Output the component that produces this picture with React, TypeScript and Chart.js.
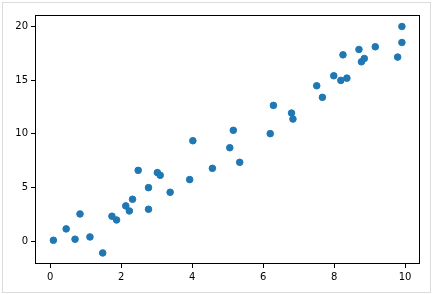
import React, { useEffect, useRef } from "react";
import { Chart, registerables } from "chart.js";

Chart.register(...registerables);

const xValues = [0.09, 0.45, 0.70, 0.84, 1.12, 1.48, 1.74, 1.87, 2.13, 2.23, 2.32, 2.48, 2.77, 2.77, 3.02, 3.10, 3.38, 3.93, 4.02, 4.57, 5.06, 5.16, 5.34, 6.20, 6.29, 6.80, 6.84, 7.51, 7.67, 7.99, 8.19, 8.25, 8.36, 8.70, 8.77, 8.85, 9.16, 9.79, 9.91, 9.91];
const yValues = [0.09, 1.15, 0.19, 2.54, 0.40, -1.09, 2.33, 1.98, 3.29, 2.82, 3.91, 6.60, 4.99, 2.98, 6.39, 6.14, 4.56, 5.74, 9.36, 6.79, 8.71, 10.33, 7.35, 10.02, 12.65, 11.94, 11.38, 14.48, 13.40, 15.41, 14.98, 17.36, 15.19, 17.86, 16.71, 17.02, 18.11, 17.15, 18.51, 20.0];
const xTicks = [0, 2, 4, 6, 8, 10];
const yTicks = [0, 5, 10, 15, 20];

const framePlugin = {
  id: "frame",
  beforeDraw(chart: any) {
    const ctx = chart.ctx;
    ctx.save();
    ctx.strokeStyle = "#dcdcdc";
    ctx.lineWidth = 1;
    ctx.strokeRect(2.5, 2.5, 428, 290);
    ctx.restore();
  },
  afterDraw(chart: any) {
    const { left, top, right, bottom } = chart.chartArea;
    const ctx = chart.ctx;
    ctx.save();
    ctx.strokeStyle = "#000";
    ctx.lineWidth = 1;
    ctx.strokeRect(Math.round(left) - 0.5, Math.round(top) + 0.5, Math.round(right - left), Math.round(bottom - top) - 1);
    ctx.restore();
  },
};

export default function App() {
  const ref = useRef<HTMLCanvasElement>(null);
  useEffect(() => {
    if (!ref.current) return;
    const chart = new Chart(ref.current, {
      type: "scatter",
      data: {
        datasets: [
          {
            data: xValues.map((x, i) => ({ x, y: yValues[i] })),
            backgroundColor: "#1f77b4",
            borderColor: "#1f77b4",
            borderWidth: 1,
            pointRadius: 3.3,
            pointHoverRadius: 3.3,
          },
        ],
      },
      options: {
        responsive: false,
        animation: false,
        events: [],
        layout: { padding: { top: 15, right: 13, left: 0, bottom: 0 } },
        plugins: { legend: { display: false }, tooltip: { enabled: false } },
        scales: {
          x: {
            type: "linear",
            min: -0.4,
            max: 10.42,
            afterBuildTicks: (s: any) => {
              s.ticks = xTicks.map((v) => ({ value: v }));
            },
            afterFit: (s: any) => {
              s.height = 30;
            },
            grid: { display: true, drawOnChartArea: false, drawTicks: true, tickLength: 4, tickColor: "#000", color: "#000" },
            border: { display: false },
            ticks: { color: "#000", padding: 3, maxRotation: 0, font: { family: "DejaVu Sans", size: 10 } },
          },
          y: {
            type: "linear",
            min: -2.12,
            max: 21.07,
            afterBuildTicks: (s: any) => {
              s.ticks = yTicks.map((v) => ({ value: v }));
            },
            afterFit: (s: any) => {
              s.width = 36;
            },
            grid: { display: true, drawOnChartArea: false, drawTicks: true, tickLength: 5, tickColor: "#000", color: "#000" },
            border: { display: false },
            ticks: { color: "#000", padding: 3, font: { family: "DejaVu Sans", size: 10 } },
          },
        },
      },
      plugins: [framePlugin],
    });
    return () => chart.destroy();
  }, []);
  return (
    <div style={{ position: "absolute", left: 0, top: 0, width: 433, height: 294, background: "#fff" }}>
      <canvas ref={ref} width={433} height={294} style={{ display: "block" }} />
    </div>
  );
}
